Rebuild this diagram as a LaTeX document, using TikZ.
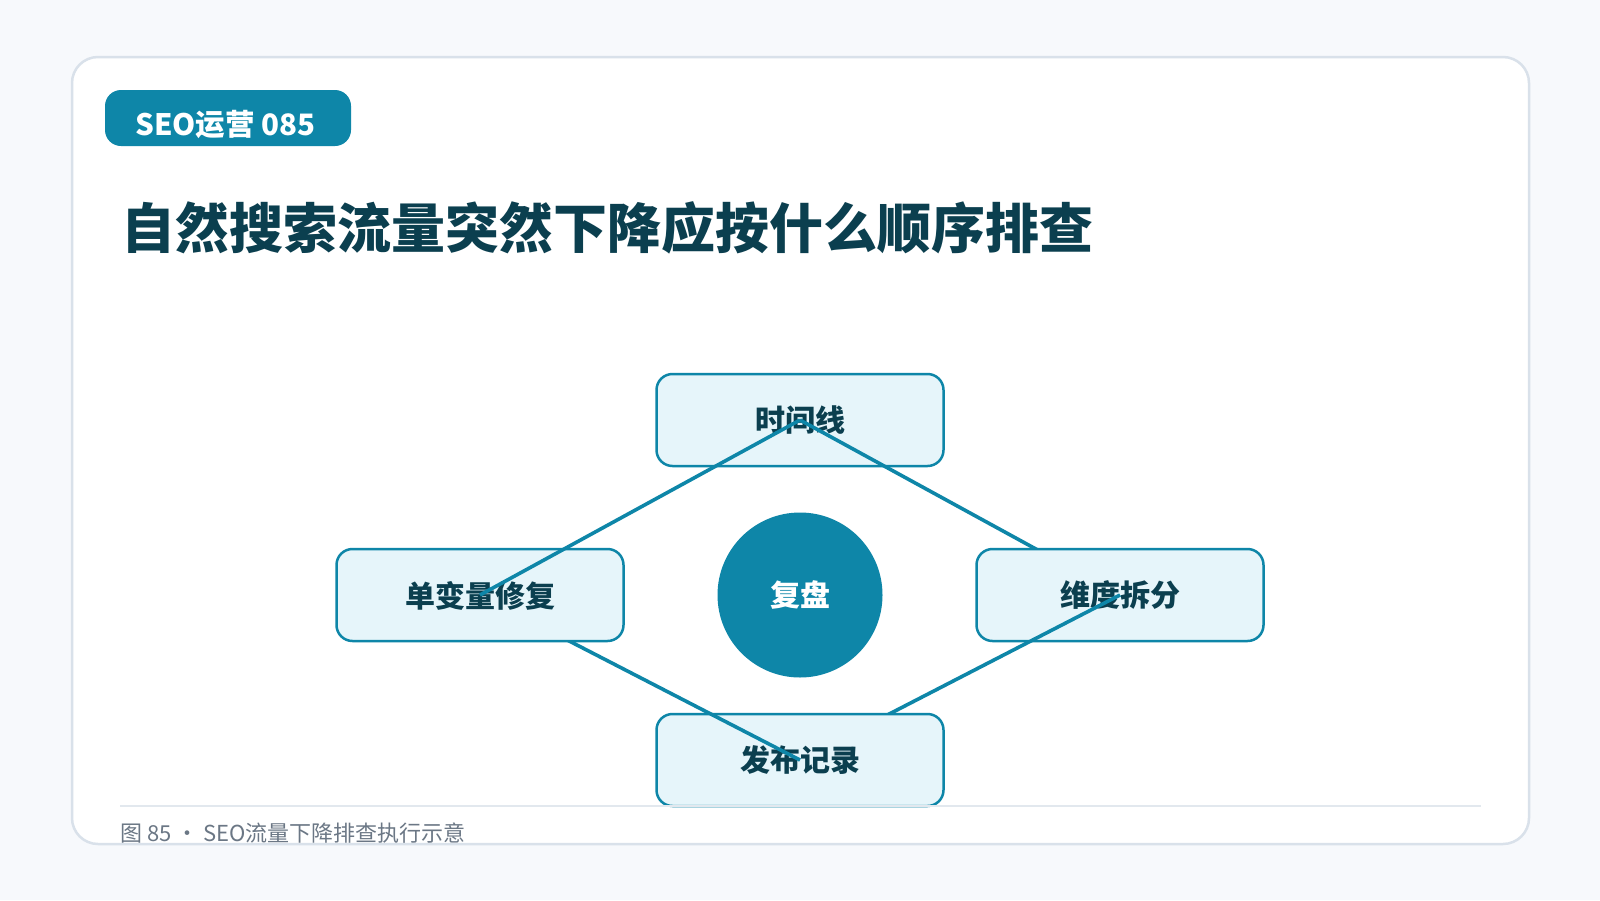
\documentclass[tikz,border=0pt]{standalone}
\usepackage{fontspec}
\setmainfont{Noto Sans CJK SC}
\definecolor{paper}{HTML}{F7F9FC}
\definecolor{cardline}{HTML}{D9E1EA}
\definecolor{seoblue}{HTML}{0E86A8}
\definecolor{ink}{HTML}{0B3F4F}
\definecolor{pale}{HTML}{E6F5FA}
\definecolor{note}{HTML}{6B7785}
\definecolor{rule}{HTML}{E2E8EE}
\def\bw{287pt}
\def\bh{92pt}
\tikzset{
  box/.style={draw=seoblue, line width=2.5pt, fill=pale, rounded corners=16pt,
    minimum width=\bw, minimum height=\bh, text=ink, text depth=2pt,
    font=\fontsize{30}{36}\selectfont\bfseries},
  link/.style={seoblue, line width=3.6pt}
}

\begin{document}
\begin{tikzpicture}[x=1pt,y=-1pt]
\fill[paper] (0,0) rectangle (1600,900);
\draw[cardline, line width=2.5pt, fill=white, rounded corners=26pt] (72,57) rectangle (1529,844);
\fill[seoblue, rounded corners=16pt] (105,90) rectangle (351,146);
\node[anchor=base west, inner sep=0, text=white, font=\fontsize{29.5}{34}\selectfont\bfseries] (tag) at (135,135) {SEO运营 085};
\node[anchor=base west, inner sep=0, text=ink, font=\fontsize{54}{64}\selectfont\bfseries] (title) at (121,248) {自然搜索流量突然下降应按什么顺序排查};

\coordinate (T) at (800,420);
\coordinate (R) at (1120,595);
\coordinate (B) at (800,760);
\coordinate (L) at (480,595);

% each box covers the end of the link that comes into it
\node[box] (time) at (T) {时间线};
\draw[link] (T) -- (R);
\node[box] (split) at (R) {维度拆分};
\draw[link] (R) -- (B);
\node[box] (log) at (B) {发布记录};
\draw[link] (B) -- (L);
\node[box] (fix) at (L) {单变量修复};
\draw[link] (L) -- (T);

\node[circle, fill=seoblue, minimum size=165pt, text=white, font=\fontsize{30}{36}\selectfont\bfseries] (hub) at (800,595) {复盘};

\draw[rule, line width=2pt] (120,806) coordinate (r1) -- (1481,806) coordinate (r2);
\node[anchor=base west, inner sep=0, text=note, font=\fontsize{22}{26}\selectfont] (cap) at (120,841) {图 85 · SEO流量下降排查执行示意};
\end{tikzpicture}
\end{document}
